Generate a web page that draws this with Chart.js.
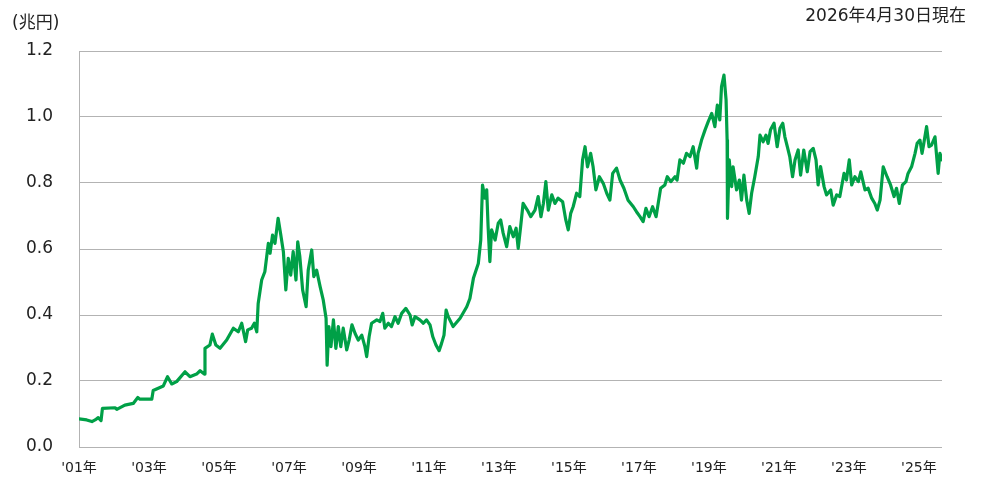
<!DOCTYPE html>
<html>
<head>
<meta charset="utf-8">
<script src="https://cdn.jsdelivr.net/npm/chart.js@4/dist/chart.umd.min.js"></script>
<style>
  html, body { margin: 0; padding: 0; background: #fff; }
  #wrap { position: relative; width: 989px; height: 478px; }
</style>
</head>
<body>
<div id="wrap"><canvas id="c" width="989" height="478"></canvas></div>
<script>
// Net assets (trillion yen), time positions in decimal years
const dates = [
  2001.00,2001.22,2001.37,2001.46,2001.55,2001.63,2001.67,2002.03,2002.08,2002.31,2002.55,2002.68,2002.74,2003.08,2003.12,2003.41,2003.53,2003.65,2003.79,2004.03,2004.17,2004.36,2004.46,2004.58,2004.60,2004.74,2004.81,2004.91,2005.03,2005.22,2005.41,2005.55,2005.65,2005.76,2005.82,2005.93,2006.01,2006.08,
  2006.12,2006.22,2006.31,2006.41,2006.46,2006.53,2006.60,2006.69,2006.76,2006.84,2006.91,2006.98,2007.05,2007.12,2007.20,2007.25,2007.31,2007.39,2007.49,2007.55,2007.65,2007.71,2007.79,2007.89,2007.98,
  2008.06,2008.09,2008.14,2008.20,2008.27,2008.34,2008.41,2008.48,2008.55,2008.65,2008.72,2008.80,2008.89,2008.98,2009.08,2009.17,2009.22,2009.29,2009.36,2009.51,2009.60,2009.68,2009.74,2009.84,2009.93,
  2010.03,2010.12,2010.22,2010.34,2010.46,2010.52,2010.60,2010.74,2010.84,2010.93,2011.03,2011.11,2011.20,2011.29,2011.36,2011.43,2011.49,2011.55,2011.69,2011.89,2012.08,2012.17,
  2012.27,2012.41,2012.48,2012.51,2012.53,2012.60,2012.65,2012.69,2012.74,2012.79,2012.89,2012.98,2013.05,2013.12,2013.22,2013.31,2013.41,2013.49,2013.55,2013.62,2013.69,2013.81,2013.91,
  2014.03,2014.12,2014.20,2014.27,2014.34,2014.41,2014.51,2014.60,2014.69,2014.82,2014.91,2014.98,2015.05,2015.12,2015.22,2015.31,2015.39,2015.46,2015.53,2015.62,2015.69,2015.77,2015.87,2015.98,
  2016.08,2016.17,2016.25,2016.36,2016.46,2016.57,2016.69,2016.84,2016.93,
  2017.03,2017.12,2017.20,2017.29,2017.39,2017.49,2017.55,2017.62,2017.74,2017.81,2017.91,2018.03,2018.09,2018.17,2018.27,2018.36,2018.46,2018.55,2018.65,2018.69,2018.79,2018.89,2018.98,
  2019.08,2019.17,2019.24,2019.31,2019.36,2019.43,2019.49,2019.52,2019.53,2019.58,2019.65,2019.69,2019.79,2019.87,2019.93,2020.00,2020.08,2020.15,2020.22,2020.31,2020.41,2020.46,2020.55,2020.63,2020.69,2020.76,2020.86,2020.95,
  2021.03,2021.11,2021.17,2021.24,2021.31,2021.39,2021.46,2021.55,2021.62,2021.71,2021.81,2021.89,2021.98,2022.06,2022.12,2022.19,2022.29,2022.36,2022.48,2022.55,2022.65,2022.74,2022.86,2022.93,
  2023.01,2023.08,2023.17,2023.27,2023.34,2023.46,2023.55,2023.65,2023.74,2023.81,2023.89,2023.98,2024.09,2024.19,2024.29,2024.36,2024.44,2024.53,2024.63,2024.69,2024.79,2024.89,2024.95,
  2025.03,2025.09,2025.14,2025.22,2025.29,2025.36,2025.46,2025.50,2025.55,2025.60,2025.66
];

const netAssets = [
  0.085,0.082,0.077,0.082,0.089,0.080,0.117,0.119,0.114,0.127,0.132,0.150,0.145,0.145,0.171,0.185,0.213,0.191,0.198,0.228,0.213,0.221,0.231,0.221,0.299,0.309,0.342,0.309,0.299,0.324,0.360,0.349,0.375,0.319,0.355,0.360,0.375,0.349,
  0.435,0.506,0.531,0.617,0.587,0.642,0.617,0.693,0.647,0.592,0.476,0.572,0.521,0.592,0.506,0.622,0.577,0.476,0.425,0.536,0.597,0.516,0.536,0.486,0.445,
  0.390,0.248,0.365,0.304,0.385,0.299,0.365,0.304,0.360,0.294,0.324,0.370,0.344,0.324,0.339,0.304,0.274,0.334,0.375,0.385,0.380,0.405,0.360,0.375,0.365,
  0.395,0.375,0.405,0.420,0.400,0.370,0.395,0.385,0.375,0.385,0.370,0.334,0.309,0.292,0.314,0.339,0.415,0.395,0.365,0.390,0.425,0.450,
  0.511,0.556,0.627,0.728,0.794,0.754,0.779,0.668,0.562,0.658,0.627,0.678,0.688,0.648,0.607,0.668,0.637,0.663,0.602,0.668,0.738,0.718,0.698,
  0.718,0.759,0.698,0.738,0.804,0.718,0.764,0.738,0.754,0.743,0.688,0.658,0.708,0.728,0.769,0.759,0.870,0.910,0.849,0.890,0.849,0.779,0.819,0.799,
  0.769,0.748,0.829,0.845,0.809,0.784,0.748,0.728,0.713,
  0.698,0.683,0.723,0.698,0.728,0.698,0.738,0.784,0.794,0.819,0.804,0.819,0.809,0.870,0.860,0.890,0.880,0.910,0.845,0.890,0.930,0.961,0.986,
  1.011,0.971,1.036,0.991,1.092,1.127,1.052,0.930,0.693,0.870,0.789,0.849,0.779,0.809,0.748,0.824,0.748,0.708,0.769,0.819,0.880,0.945,0.925,0.945,0.920,0.961,0.981,0.910,
  0.966,0.981,0.940,0.910,0.880,0.819,0.870,0.900,0.824,0.900,0.834,0.895,0.905,0.870,0.794,0.850,0.789,0.764,0.779,0.733,0.764,0.759,0.829,0.809,
  0.870,0.794,0.819,0.804,0.834,0.779,0.784,0.754,0.738,0.718,0.748,0.849,0.819,0.794,0.759,0.784,0.738,0.794,0.804,0.829,0.849,0.890,0.920,
  0.930,0.890,0.920,0.971,0.910,0.915,0.940,0.890,0.829,0.890,0.870
];

// Tick positions on the time axis and their labels
const tickYears = [2001, 2003, 2005, 2007, 2009, 2011, 2013, 2015, 2017, 2019, 2021, 2023, 2025];
const tickLabels = ["'01年", "'03年", "'05年", "'07年", "'09年", "'11年", "'13年", "'15年", "'17年", "'19年", "'21年", "'23年", "'25年"];
const yTickValues = [0, 0.2, 0.4, 0.6, 0.8, 1.0, 1.2];

const unitLabel = '(兆円)';
const asOfLabel = '2026年4月30日現在';

const FONT = '"DejaVu Sans", "Noto Sans CJK JP", sans-serif';
const TEXT = '#222222';
const GRID = '#b3b3b3';
const LINE = '#00a047';

Chart.defaults.font.family = FONT;
Chart.defaults.color = TEXT;

const points = dates.map((d, i) => ({ x: d, y: netAssets[i] }));

// Header texts: unit at top-left, as-of date at top-right
const headerText = {
  id: 'headerText',
  afterDraw(chart) {
    const ctx = chart.ctx;
    ctx.save();
    ctx.fillStyle = TEXT;
    ctx.textBaseline = 'middle';
    ctx.font = '17px ' + FONT;
    ctx.textAlign = 'left';
    ctx.fillText(unitLabel, 12, 24);
    ctx.textAlign = 'right';
    ctx.fillText(asOfLabel, 966, 17);
    ctx.restore();
  }
};

new Chart(document.getElementById('c'), {
  type: 'line',
  data: {
    datasets: [{
      data: points,
      borderColor: LINE,
      borderWidth: 3.2,
      pointRadius: 0,
      tension: 0,
      borderJoinStyle: 'round',
      borderCapStyle: 'round'
    }]
  },
  options: {
    responsive: false,
    animation: false,
    events: [],
    layout: { padding: { top: 51, right: 47, left: 0, bottom: 0 } },
    plugins: { legend: { display: false }, tooltip: { enabled: false }, title: { display: false } },
    scales: {
      x: {
        type: 'linear',
        min: tickYears[0],
        max: dates[dates.length - 1],
        afterFit(s) { s.height = 31; },
        afterBuildTicks(s) { s.ticks = tickYears.map(v => ({ value: v })); },
        grid: { display: false, drawTicks: false },
        border: { display: false },
        ticks: {
          autoSkip: false,
          maxRotation: 0,
          minRotation: 0,
          padding: 13,
          font: { size: 14 },
          color: TEXT,
          callback(v) { const i = tickYears.indexOf(v); return i >= 0 ? tickLabels[i] : ''; }
        }
      },
      y: {
        min: 0,
        max: 1.2,
        afterFit(s) { s.width = 79; s.paddingTop = 0; s.paddingBottom = 0; },
        afterBuildTicks(s) { s.ticks = yTickValues.map(v => ({ value: v })); },
        grid: { color: GRID, lineWidth: 1, drawTicks: false },
        border: { display: true, color: GRID, width: 1 },
        ticks: {
          padding: 26,
          font: { size: 17 },
          color: TEXT,
          callback(v) { return Number(v).toFixed(1); }
        }
      }
    }
  },
  plugins: [headerText]
});
</script>
</body>
</html>
